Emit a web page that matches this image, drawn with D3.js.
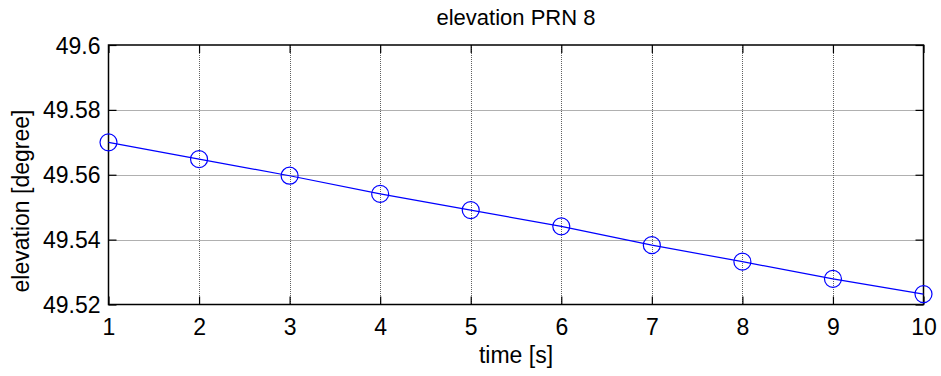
<!DOCTYPE html>
<html><head><meta charset="utf-8">
<script src="https://cdn.jsdelivr.net/npm/d3@7"></script>
<style>body{margin:0;background:#fff}text{font-family:"Liberation Sans",Arial,Helvetica,sans-serif}</style>
</head><body>
<svg id="c" width="941" height="376"></svg>
<script>
const times = [1,2,3,4,5,6,7,8,9,10];
const elevation = [49.5700,49.5648,49.5597,49.5541,49.5491,49.5441,49.5383,49.5332,49.5279,49.5232];
const xTicks = [1,2,3,4,5,6,7,8,9,10];
const yTicks = [49.52,49.54,49.56,49.58,49.6];
const yTickLabels = ["49.52","49.54","49.56","49.58","49.6"];

const m = {l:108.5, r:923.5, t:45, b:304.5};
const svg = d3.select("#c");
const x = d3.scaleLinear().domain([1,10]).range([m.l,m.r]);
const y = d3.scaleLinear().domain([49.52,49.6]).range([m.b,m.t]);
const FONT = "Liberation Sans, Arial, sans-serif";
const crisp = v => Math.round(v) + 0.5;

// grid
const g = svg.append("g");
g.selectAll(".gx").data(xTicks.slice(1,-1)).enter().append("line")
 .attr("x1",d=>crisp(x(d))).attr("x2",d=>crisp(x(d))).attr("y1",m.t).attr("y2",m.b)
 .attr("stroke","#606060").attr("stroke-width",1).attr("stroke-dasharray","1,1");
g.selectAll(".gy").data(yTicks.slice(1,-1)).enter().append("line")
 .attr("y1",d=>crisp(y(d))).attr("y2",d=>crisp(y(d))).attr("x1",m.l).attr("x2",m.r)
 .attr("stroke","#606060").attr("stroke-width",1).attr("stroke-dasharray","1,1");

// axes
const xa = svg.append("g").attr("transform",`translate(0,${m.b})`)
 .call(d3.axisBottom(x).tickValues(xTicks).tickSizeInner(-8).tickSizeOuter(0).tickPadding(12));
const xt = svg.append("g").attr("transform",`translate(0,${m.t})`)
 .call(d3.axisTop(x).tickValues(xTicks).tickSizeInner(-8).tickSizeOuter(0).tickFormat(""));
const ya = svg.append("g").attr("transform",`translate(${m.l},0)`)
 .call(d3.axisLeft(y).tickValues(yTicks).tickFormat((d,i)=>yTickLabels[i]).tickSizeInner(-8).tickSizeOuter(0).tickPadding(8));
const yr = svg.append("g").attr("transform",`translate(${m.r},0)`)
 .call(d3.axisRight(y).tickValues(yTicks).tickSizeInner(-8).tickSizeOuter(0).tickFormat(""));
[xa,xt,ya,yr].forEach(a=>{
  a.select(".domain").remove();
  a.attr("font-size",null).attr("font-family",null);
  a.selectAll("line").attr("stroke","#000").attr("stroke-width",1.2);
  a.selectAll("text").attr("font-size",23).attr("fill","#000").attr("font-family",FONT);
});
xa.selectAll("text").attr("dy",null).attr("y",null).attr("dominant-baseline",null)
  .attr("transform",null).attr("y",30);
ya.selectAll("text").attr("dy","0.35em");

svg.append("rect").attr("x",m.l).attr("y",m.t).attr("width",m.r-m.l).attr("height",m.b-m.t)
 .attr("fill","none").attr("stroke","#000").attr("stroke-width",1.5);

// line
const pts = times.map((t,i)=>[t,elevation[i]]);
svg.append("path").datum(pts).attr("fill","none").attr("stroke","#0000ff").attr("stroke-width",1.2)
 .attr("d",d3.line().x(d=>x(d[0])).y(d=>y(d[1])));
svg.selectAll(".pt").data(pts).enter().append("circle")
 .attr("cx",d=>x(d[0])).attr("cy",d=>y(d[1])).attr("r",8.5)
 .attr("fill","none").attr("stroke","#0000ff").attr("stroke-width",1.2);

// labels
svg.append("text").attr("x",(m.l+m.r)/2).attr("y",25).attr("text-anchor","middle")
 .attr("font-size",22).attr("font-family",FONT).text("elevation PRN 8");
svg.append("text").attr("x",(m.l+m.r)/2).attr("y",363).attr("text-anchor","middle")
 .attr("font-size",23).attr("font-family",FONT).text("time [s]");
svg.append("text").attr("transform",`translate(29,201) rotate(-90)`).attr("text-anchor","middle")
 .attr("font-size",23).attr("font-family",FONT).text("elevation [degree]");
</script>
</body></html>
